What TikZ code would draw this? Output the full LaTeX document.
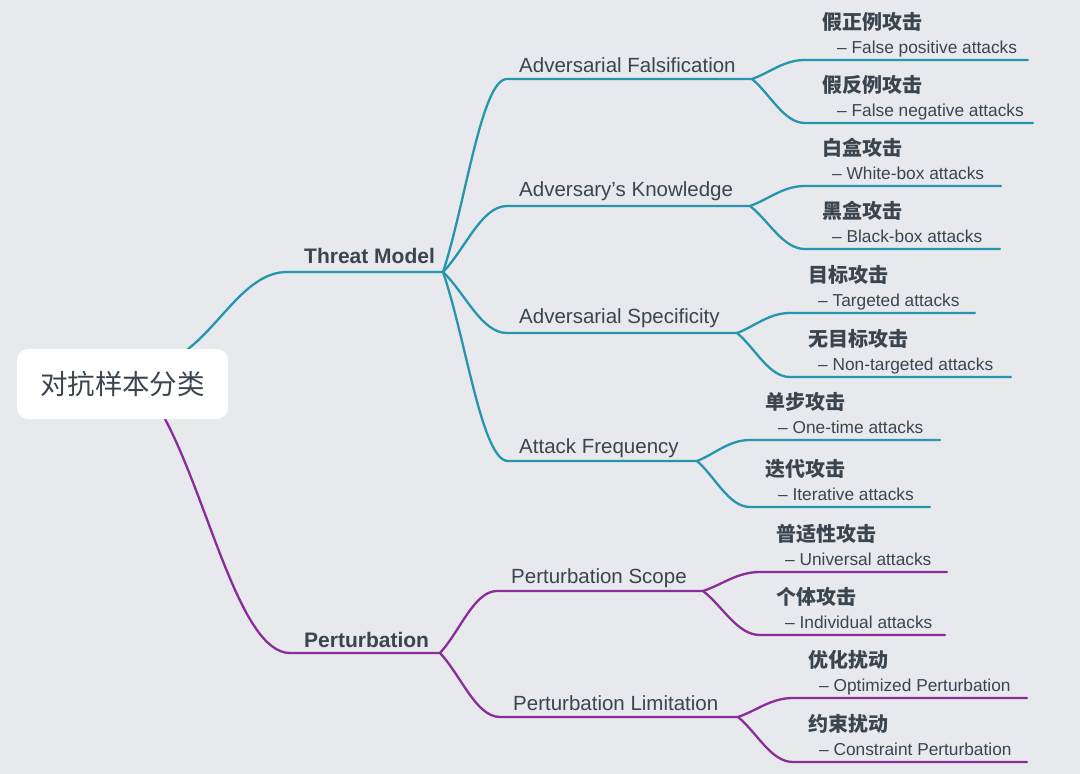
\documentclass[tikz,border=0pt]{standalone}
\usepackage{fontspec}
\setmainfont{Liberation Sans}
\newfontfamily\cjk{Noto Sans CJK SC}
\usetikzlibrary{calc}
\definecolor{bg}{HTML}{E7E9EC}
\definecolor{tl}{HTML}{2596AD}
\definecolor{pp}{HTML}{8A2D9B}
\definecolor{txt}{HTML}{3A4550}
\tikzset{
  x=1pt, y=-1pt,
  branch/.style={to path={let \p1=(\tikztostart), \p2=(\tikztotarget) in
      .. controls ({\x1+0.35*(\x2-\x1)},{\y1+0.35*(\y2-\y1)}) and ({\x1+0.6*(\x2-\x1)},{\y2}) .. (\tikztotarget)}},
  conn/.style={line width=2.3pt, line cap=round},
  rootbox/.style={fill=white, rounded corners=11pt, minimum width=211pt, minimum height=70pt,
      inner sep=0pt, text=txt, font=\cjk\fontsize{27.5}{32}\selectfont},
  mainlbl/.style={anchor=base west, inner sep=0pt, text=txt, font=\fontsize{21}{25}\selectfont\bfseries},
  midlbl/.style={anchor=base west, inner sep=0pt, text=txt, font=\fontsize{20.5}{24}\selectfont},
  zh/.style={anchor=base west, inner sep=0pt, text=txt, font=\cjk\bfseries\fontsize{20}{24}\selectfont},
  en/.style={anchor=base west, inner sep=0pt, text=txt, font=\fontsize{17.3}{20}\selectfont},
}
% #1 name #2 junction #3 x0 #4 x1 #5 y #6 zh x #7 en x #8 zh #9 en
\newcommand{\leafnode}[9]{%
  \coordinate (#1s) at (#3,#5);
  \coordinate (#1e) at (#4,#5);
  \node[zh] (#1zh) at (#6,#5-31) {#8};
  \node[en] (#1en) at (#7,#5-7) {#9};
  \draw[conn] (#2) to[branch] (#1s) -- (#1e);
}
\begin{document}
\begin{tikzpicture}
\useasboundingbox (0,0) rectangle (1080,774);
\fill[bg] (0,0) rectangle (1080,774);

% root anchors and main branches
\coordinate (rT) at (188,349);
\coordinate (rB) at (165,419);
\coordinate (tmS) at (287,272);
\coordinate (tmJ) at (443,272);
\coordinate (pS) at (290,653);
\coordinate (pJ) at (440,653);

\node[mainlbl] (tm) at (304,263) {Threat Model};
\node[mainlbl] (pt) at (304,647) {Perturbation};

\begin{scope}[color=tl]
  \draw[conn] (rT) to[branch] (tmS) -- (tmJ);
  % mid level
  \coordinate (afS) at (507,79);  \coordinate (afJ) at (752,79);
  \coordinate (akS) at (507,206); \coordinate (akJ) at (750,206);
  \coordinate (asS) at (507,333); \coordinate (asJ) at (737,333);
  \coordinate (fqS) at (508,461); \coordinate (fqJ) at (697,461);
  \node[midlbl] (af) at (519,72) {Adversarial Falsification};
  \node[midlbl] (ak) at (519,196) {Adversary’s Knowledge};
  \node[midlbl] (as) at (519,323) {Adversarial Specificity};
  \node[midlbl] (fq) at (519,453) {Attack Frequency};
  \draw[conn] (tmJ) to[branch] (afS) -- (afJ);
  \draw[conn] (tmJ) to[branch] (akS) -- (akJ);
  \draw[conn] (tmJ) to[branch] (asS) -- (asJ);
  \draw[conn] (tmJ) to[branch] (fqS) -- (fqJ);
  % leaves
  \leafnode{l1}{afJ}{805}{1028}{60}{822}{837}{假正例攻击}{– False positive attacks}
  \leafnode{l2}{afJ}{805}{1033}{123}{822}{837}{假反例攻击}{– False negative attacks}
  \leafnode{l3}{akJ}{805}{1001}{186}{822}{832}{白盒攻击}{– White-box attacks}
  \leafnode{l4}{akJ}{805}{1000}{249}{822}{832}{黑盒攻击}{– Black-box attacks}
  \leafnode{l5}{asJ}{790}{975}{313}{808}{818}{目标攻击}{– Targeted attacks}
  \leafnode{l6}{asJ}{790}{1011}{377}{808}{818}{无目标攻击}{– Non-targeted attacks}
  \leafnode{l7}{fqJ}{750}{940}{440}{765}{778}{单步攻击}{– One-time attacks}
  \leafnode{l8}{fqJ}{750}{930}{507}{765}{778}{迭代攻击}{– Iterative attacks}
\end{scope}

\begin{scope}[color=pp]
  \draw[conn] (rB) to[branch] (pS) -- (pJ);
  \coordinate (psS) at (497,591); \coordinate (psJ) at (703,591);
  \coordinate (plS) at (500,717); \coordinate (plJ) at (738,717);
  \node[midlbl] (ps) at (511,583) {Perturbation Scope};
  \node[midlbl] (pl) at (513,710) {Perturbation Limitation};
  \draw[conn] (pJ) to[branch] (psS) -- (psJ);
  \draw[conn] (pJ) to[branch] (plS) -- (plJ);
  \leafnode{l9}{psJ}{760}{947}{572}{776}{785}{普适性攻击}{– Universal attacks}
  \leafnode{l10}{psJ}{760}{945}{635}{776}{785}{个体攻击}{– Individual attacks}
  \leafnode{l11}{plJ}{793}{1027}{698}{808}{819}{优化扰动}{– Optimized Perturbation}
  \leafnode{l12}{plJ}{793}{1027}{762}{808}{819}{约束扰动}{– Constraint Perturbation}
\end{scope}

\node[rootbox] (root) at (122.5,384) {对抗样本分类};
\end{tikzpicture}
\end{document}
